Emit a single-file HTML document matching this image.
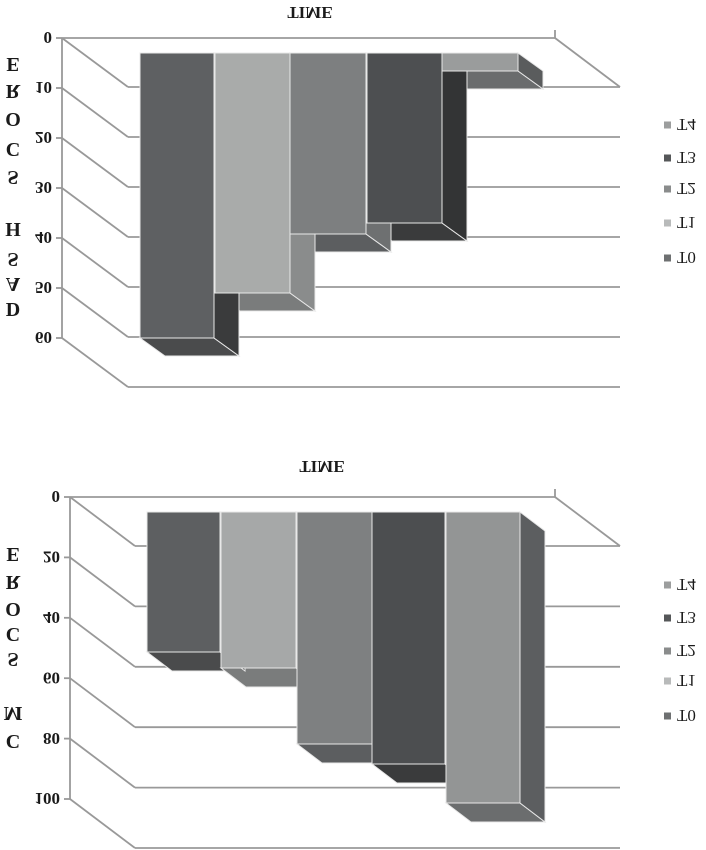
<!DOCTYPE html>
<html><head><meta charset="utf-8"><style>html,body{margin:0;padding:0;background:#fff}svg{display:block}</style></head>
<body>
<svg id="s" width="706" height="850" viewBox="0 0 706 850" xmlns="http://www.w3.org/2000/svg" font-family="Liberation Serif, serif">
</svg>
<script>
var s=document.getElementById('s'),h='';
function L(x1,y1,x2,y2){h+='<line x1="'+x1+'" y1="'+y1+'" x2="'+x2+'" y2="'+y2+'" stroke="#999" stroke-width="1.8"/>';}
function T(x,y,t,sz,anc,wt){h+='<text transform="translate('+x+','+(y-sz*0.34)+') scale(1,-1)" font-size="'+sz+'" text-anchor="'+anc+'" font-weight="'+(wt||'bold')+'" fill="#1a1a1a">'+t+'</text>';}
function P(pts,f){h+='<polygon points="'+pts+'" fill="'+f+'" stroke="#e8e8e8" stroke-width="1"/>';}
function chart(ax,top,step,labels,fx,bars,bt,dx,dy){
  var n=labels.length;
  L(ax,top,555,top);L(555,top-8,555,top);L(555,top,620,top+dy0);
  L(ax,top,ax,top+step*(n-1));
  for(var i=0;i<n;i++){var y=top+step*i;L(ax-6,y,ax,y);L(ax,y,fx,y+dy0);L(fx,y+dy0,620,y+dy0);T(ax-10,y,labels[i],17,'end');}
  bars.forEach(function(b){P(b[0]+','+b[2]+' '+b[1]+','+b[2]+' '+(b[1]+dx)+','+(b[2]+dy)+' '+(b[0]+dx)+','+(b[2]+dy),b[5]);});
  bars.forEach(function(b){P(b[1]+','+bt+' '+(b[1]+dx)+','+(bt+dy)+' '+(b[1]+dx)+','+(b[2]+dy)+' '+b[1]+','+b[2],b[4]);});
  bars.forEach(function(b){P(b[0]+','+bt+' '+b[1]+','+bt+' '+b[1]+','+b[2]+' '+b[0]+','+b[2],b[3]);});
}
var dy0=49;
chart(62,38,50,['0','10','20','30','40','50','60'],128,[
 [140,214,338,'#5e6062','#3a3b3c','#4a4b4c'],
 [215,290,293,'#a9abaa','#8a8c8c','#7a7c7c'],
 [290,366,234,'#7d7f80','#6e7071','#5c5e60'],
 [367,442,223,'#4d4f51','#333435','#3a3b3c'],
 [442,518,71,'#9a9c9c','#5a5c5d','#6a6c6d']],53,25,18);
T(310,13,'TIME',17,'middle');
chart(70,497,60.4,['0','20','40','60','80','100'],135,[
 [147,220,652,'#5d5f61','#3e3f40','#4a4b4c'],
 [221,296,668,'#a6a8a8','#8a8c8c','#7a7c7c'],
 [297,372,744,'#7e8081','#6e7071','#5c5e60'],
 [372,445,764,'#4c4e50','#333435','#3a3b3c'],
 [446,520,803,'#939595','#5c5e60','#6b6d6e']],512,25,19);
T(322,467,'TIME',17,'middle');
[['E',65],['R',92],['O',120],['C',150],['S',178],['H',230],['S',260],['A',285],['D',310]].forEach(function(a){T(13,a[1],a[0],20,'middle');});
[['E',555],['R',583],['O',610],['C',635],['S',660],['M',714],['C',742]].forEach(function(a){T(13,a[1],a[0],20,'middle');});
function leg(ys){var c=['#9c9e9e','#555759','#8a8c8c','#b8baba','#6e7071'],t=['T4','T3','T2','T1','T0'];
 ys.forEach(function(y,i){h+='<rect x="664" y="'+(y-3.5)+'" width="7" height="7" fill="'+c[i]+'"/>';T(677,y,t[i],17,'start','normal');});}
leg([125,158,189,223,258]);leg([585,618,651,681,716]);
s.innerHTML=h;
</script>
</body></html>
